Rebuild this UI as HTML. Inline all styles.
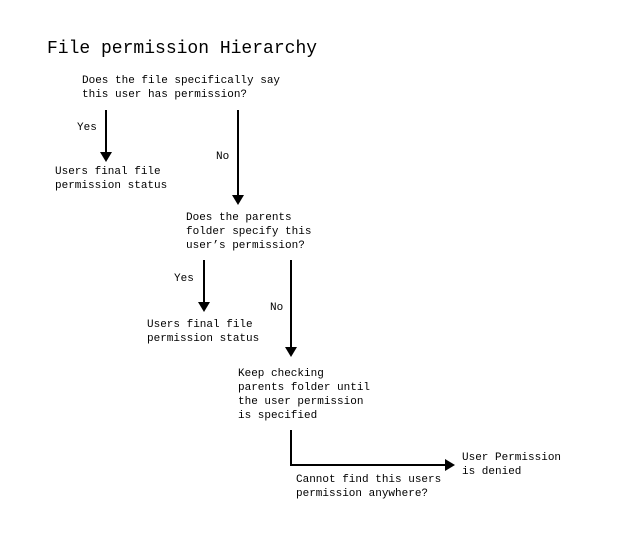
<!DOCTYPE html>
<html><head><style>
html,body{margin:0;padding:0;background:#fff;}
body{width:618px;height:540px;position:relative;overflow:hidden;font-family:"Liberation Mono",monospace;color:#000;}
.t{position:absolute;font-size:11px;line-height:14px;white-space:pre;}
svg{position:absolute;left:0;top:0;}
</style></head><body>
<div class="t" style="left:47px;top:38px;font-size:18px;line-height:22px;">File permission Hierarchy</div>
<div class="t" style="left:82px;top:74px;">Does the file specifically say
this user has permission?</div>
<div class="t" style="left:77px;top:121px;">Yes</div>
<div class="t" style="left:55px;top:165px;">Users final file
permission status</div>
<div class="t" style="left:216px;top:150px;">No</div>
<div class="t" style="left:186px;top:211px;">Does the parents
folder specify this
user’s permission?</div>
<div class="t" style="left:174px;top:272px;">Yes</div>
<div class="t" style="left:147px;top:318px;">Users final file
permission status</div>
<div class="t" style="left:270px;top:301px;">No</div>
<div class="t" style="left:238px;top:367px;">Keep checking
parents folder until
the user permission
is specified</div>
<div class="t" style="left:462px;top:451px;">User Permission
is denied</div>
<div class="t" style="left:296px;top:473px;">Cannot find this users
permission anywhere?</div>
<svg width="618" height="540">
<g stroke="#000" stroke-width="2" fill="none">
<line x1="106" y1="110" x2="106" y2="153"/>
<line x1="238" y1="110" x2="238" y2="196"/>
<line x1="204" y1="260" x2="204" y2="303"/>
<line x1="291" y1="260" x2="291" y2="348"/>
<polyline points="291,430 291,465 446,465"/>
</g>
<g fill="#000">
<polygon points="100,152 112,152 106,162"/>
<polygon points="232,195 244,195 238,205"/>
<polygon points="198,302 210,302 204,312"/>
<polygon points="285,347 297,347 291,357"/>
<polygon points="445,459 445,471 455,465"/>
</g>
</svg>
</body></html>
